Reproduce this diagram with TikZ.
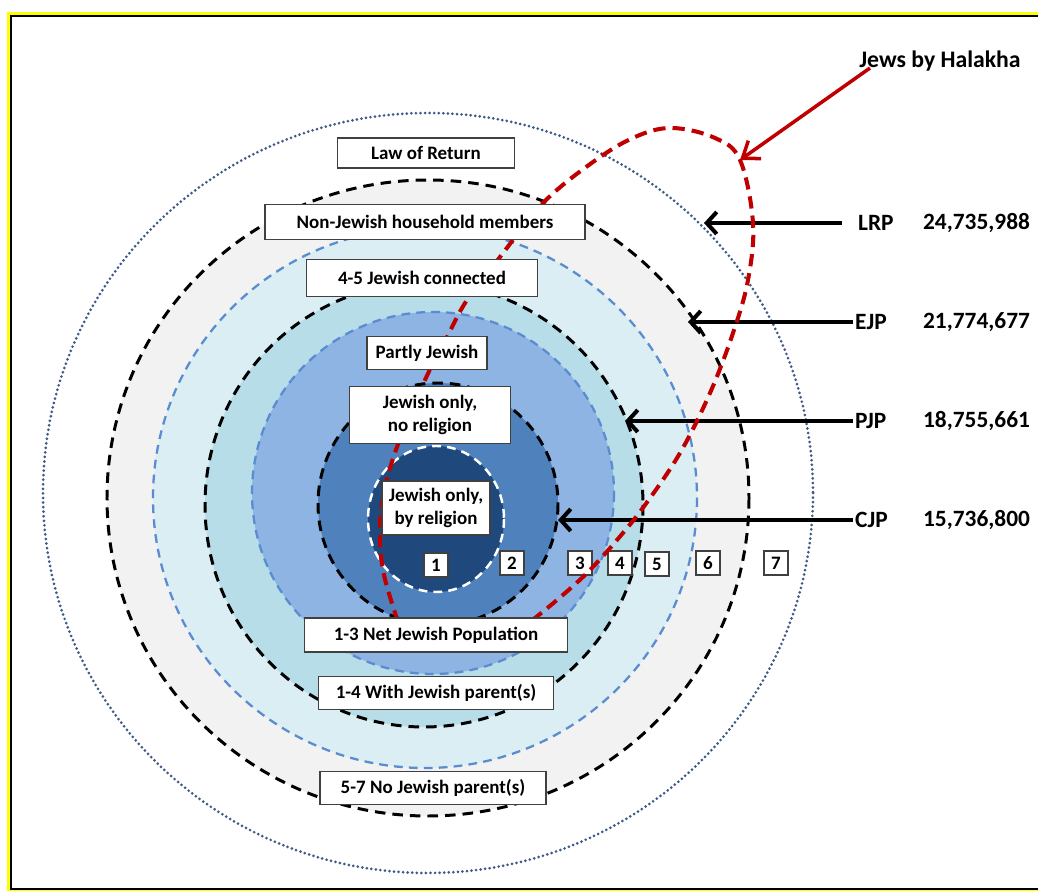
\documentclass[tikz,border=0pt]{standalone}
\usepackage{fontspec}
\setmainfont{Carlito}
\usetikzlibrary{arrows.meta}

\definecolor{ringgray}{HTML}{F2F2F2}
\definecolor{ringpale}{HTML}{DBEEF4}
\definecolor{ringaqua}{HTML}{B7DDE8}
\definecolor{ringsky}{HTML}{8EB4E3}
\definecolor{ringmid}{HTML}{4F81BD}
\definecolor{ringdeep}{HTML}{1F497D}
\definecolor{dashblue}{HTML}{5B8CD0}
\definecolor{dotnavy}{HTML}{3E5A86}
\definecolor{halred}{HTML}{C00000}
\definecolor{frameyellow}{HTML}{FFFF00}

\begin{document}
\begin{tikzpicture}[x=0.02cm,y=-0.02cm,
  font=\bfseries\fontsize{10.8}{13}\selectfont,
  >={Straight Barb[length=2mm,width=4.4mm]},
  box/.style={draw=black!75, fill=white, line width=0.7pt, inner sep=1pt, align=center},
  numbox/.style={box, minimum width=0.48cm, minimum height=0.48cm},
  side/.style={font=\bfseries\fontsize{13.3}{15}\selectfont, inner sep=1pt, anchor=west},
  blackring/.style={draw=black, line width=1.7pt, dash pattern=on 6pt off 4pt},
  bluering/.style={draw=dashblue, line width=1.3pt, dash pattern=on 5pt off 3.5pt},
  ptr/.style={->, draw=black, line width=2.3pt},
  halline/.style={draw=halred, line width=2.3pt, dash pattern=on 7pt off 4pt},
]
\useasboundingbox (0,0) rectangle (1038,891);
\fill[white] (0,0) rectangle (1038,891);
% ---------------- frame ----------------
\draw[frameyellow, line width=1.9pt] (9,13.5) rectangle (1060,892);
\draw[black, line width=1.1pt] (11,16) rectangle (1058,889);
% ---------------- rings ----------------
\draw[dotnavy, line width=1.7pt, dash pattern=on 0pt off 2.6pt, line cap=round] (428,493) ellipse [x radius=385, y radius=380];
\draw[blackring, fill=ringgray] (428,498) ellipse [x radius=321, y radius=318];
\draw[bluering, fill=ringpale] (425,498) ellipse [x radius=272, y radius=270];
\draw[blackring, fill=ringaqua] (424,505) ellipse [x radius=219, y radius=222];
\draw[bluering, fill=ringsky] (433,493) ellipse [x radius=181, y radius=181];
\draw[blackring, fill=ringmid] (438,504) ellipse [x radius=120, y radius=121];
\draw[draw=white, line width=1.4pt, dash pattern=on 5pt off 3.5pt, fill=ringdeep] (436,519) ellipse [x radius=68, y radius=73];
% ---------------- populations ----------------
\node[side] (lrp) at (856,223) {LRP};
\node[side] (lrpnum) at (921,223) {24,735,988};
\node[side] (ejp) at (853,322) {EJP};
\node[side] (ejpnum) at (921,322) {21,774,677};
\node[side] (pjp) at (853,421) {PJP};
\node[side] (pjpnum) at (921,421) {18,755,661};
\node[side] (cjp) at (853,520) {CJP};
\node[side] (cjpnum) at (921,520) {15,736,800};
\coordinate (lrptip) at (704,223);
\coordinate (ejptip) at (688,322);
\coordinate (pjptip) at (625,421);
\coordinate (cjptip) at (558,520);
\draw[ptr, shorten <=8pt] (lrp) -- (lrptip);
\draw[ptr] (ejp) -- (ejptip);
\draw[ptr] (pjp) -- (pjptip);
\draw[ptr] (cjp) -- (cjptip);
% ---------------- numbered groups ----------------
\node[numbox] (g1) at (436,565) {1};
\node[numbox] (g2) at (512,563) {2};
\node[numbox] (g3) at (580,563) {3};
\node[numbox] (g4) at (620,563) {4};
\node[numbox] (g5) at (657,564) {5};
\node[numbox] (g6) at (708,563) {6};
\node[numbox] (g7) at (776,563) {7};
% ---------------- halakha ----------------
\node[font=\bfseries\fontsize{13.5}{15}\selectfont] (halakha) at (940,61) {Jews by Halakha};
\draw[halline] plot[smooth, tension=0.6] coordinates {(398,622) (384,575) (380,537) (383,497) (397,447) (425,380) (447,337) (467,300) (500,257) (543,203) (593,162) (635,137) (672,128) (715,138) (740,160) (753,223) (748,280) (733,333) (710,393) (680,453) (645,505) (617,540) (587,573) (557,600) (530,622)};
\coordinate (halstart) at (870,68);
\coordinate (haltip) at (740,160);
\draw[->, >={Straight Barb[length=3mm,width=4.4mm]}, draw=halred, line width=2pt] (halstart) -- (haltip);
% ---------------- labels ----------------
\node[box, minimum width=3.54cm, minimum height=0.6cm] (law) at (426,153) {Law of Return};
\node[box, minimum width=6.4cm, minimum height=0.7cm] (nonjew) at (425,222) {Non-Jewish household members};
\node[box, minimum width=4.62cm, minimum height=0.74cm] (connected) at (422,278) {4-5 Jewish connected};
\node[box, minimum width=2.4cm, minimum height=0.66cm] (partly) at (427,353) {Partly Jewish};
\node[box, minimum width=3.22cm, minimum height=1.14cm] (norel) at (430,415) {Jewish only,\\no religion};
\node[box, minimum width=2.16cm, minimum height=1.08cm] (byrel) at (436,508) {Jewish only,\\by religion};
\node[box, minimum width=5.26cm, minimum height=0.68cm] (net) at (436,635) {1-3 Net Jewish Population};
\node[box, minimum width=4.7cm, minimum height=0.66cm] (withpar) at (436,693) {1-4 With Jewish parent(s)};
\node[box, minimum width=4.52cm, minimum height=0.66cm] (nopar) at (433,788) {5-7 No Jewish parent(s)};
\end{tikzpicture}
\end{document}
